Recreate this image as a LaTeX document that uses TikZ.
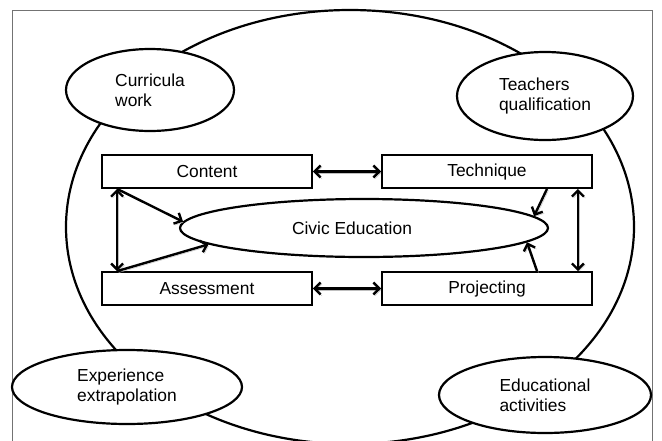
\documentclass[tikz,border=0pt]{standalone}
\usepackage{fontspec}
\setmainfont{Liberation Sans}
\usetikzlibrary{shapes.geometric,arrows.meta}
\tikzset{
  oval/.style={draw, ellipse, fill=white, line width=2.2pt, inner sep=0pt, align=left},
  box/.style={draw, rectangle, line width=1.8pt, minimum width=210pt, minimum height=33pt, inner sep=0pt},
  shadowed/.style={preaction={draw=black!25, transform canvas={shift={(1.5pt,-1.5pt)}}}},
  dbl/.style={{Straight Barb[length=6pt,width=12pt]}-{Straight Barb[length=6pt,width=12pt]}, line width=2.4pt, shadowed},
  one/.style={-{Straight Barb[length=6pt,width=12pt]}, line width=2.4pt, shadowed}
}
\begin{document}
\begin{tikzpicture}[x=1pt, y=-1pt, font=\fontsize{17.4}{20}\selectfont]
      \useasboundingbox (0,0) rectangle (662,440);
      \clip (0,0) rectangle (662,440);
      \draw[black!55, line width=1pt] (12,10) rectangle (652,470);
      \node[draw, ellipse, line width=2.2pt, minimum width=568pt, minimum height=434pt] (school) at (350,227) {};
      \node[oval, minimum width=168pt, minimum height=82pt] (curricula) at (150,90) {Curricula\\work};
      \node[oval, minimum width=176pt, minimum height=88pt] (teachers) at (545,96) {Teachers\\qualification};
      \node[oval, minimum width=230pt, minimum height=74pt] (experience) at (127,387) {Experience\\extrapolation};
      \node[oval, minimum width=212pt, minimum height=76pt] (activities) at (545,395) {Educational\\activities};
      \node[box] (content) at (207,171.5) {Content};
      \node[box] (technique) at (487,171.5) {Technique};
      \node[box] (assessment) at (207,288.5) {Assessment};
      \node[box] (projecting) at (487,288.5) {Projecting};
      \node[oval, minimum width=368pt, minimum height=58pt] (civic) at (364,228) {\hspace*{-12pt}Civic Education\hspace*{12pt}};
      \begin{scope}
        \draw[dbl] (content) -- (technique);
        \draw[dbl] (assessment) -- (projecting);
        \draw[dbl] ([xshift=16pt]content.south west) -- ([xshift=16pt]assessment.north west);
        \draw[dbl] ([xshift=-15pt]technique.south east) -- ([xshift=-15pt]projecting.north east);
        \draw[one] ([xshift=16pt]content.south west) -- (civic.178);
        \draw[one] ([xshift=16pt]assessment.north west) -- (civic.186);
        \draw[one] ([xshift=60pt]technique.south) -- (civic.4);
        \draw[one] ([xshift=50pt]projecting.north) -- (civic.355);
      \end{scope}
    \end{tikzpicture}
\end{document}
